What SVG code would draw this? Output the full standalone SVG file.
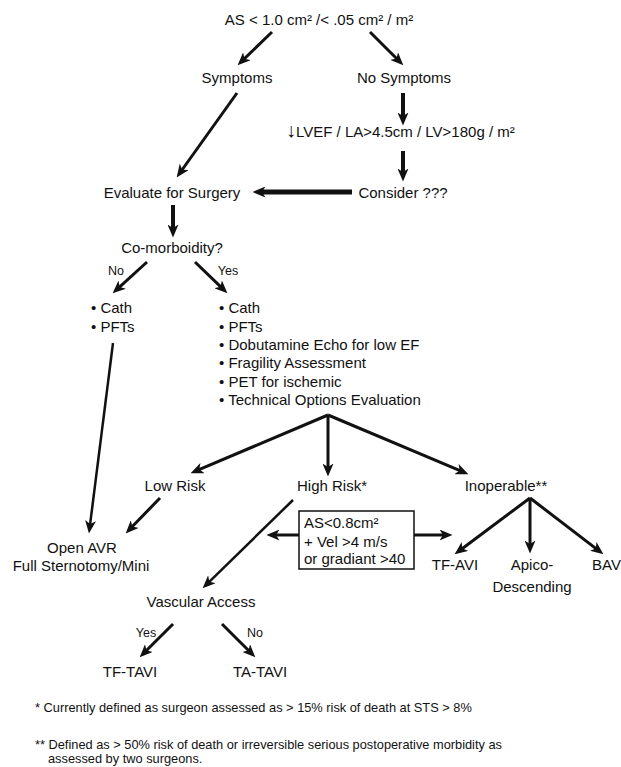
<svg xmlns="http://www.w3.org/2000/svg" width="621" height="767" viewBox="0 0 621 767">
<style>
text{font-family:"Liberation Sans",Arial,sans-serif;font-size:15px;fill:#111}
.c{text-anchor:middle}
.s{font-size:12.5px}
.f{font-size:12.8px}
.a{stroke:#111;stroke-width:3;fill:none;marker-end:url(#h)}
.v{stroke-width:4}
.t{stroke-width:5}
.n{stroke-width:2.5}
</style>
<defs>
<marker id="h" markerUnits="userSpaceOnUse" markerWidth="13" markerHeight="11" refX="4.5" refY="5.5" orient="auto">
<path d="M0,0 L13,5.5 L0,11 L3.5,5.5 z" fill="#111"/>
</marker>
</defs>
<rect width="621" height="767" fill="#fff"/>
<g id="connectors">
<line class="a" x1="272" y1="32" x2="243.7" y2="59.4"/>
<line class="a" x1="370" y1="32" x2="397.3" y2="59.3"/>
<line class="a" x1="237" y1="93" x2="181.6" y2="170.5"/>
<line class="a v" x1="403" y1="93" x2="403" y2="117"/>
<line class="a v" x1="403" y1="151" x2="403" y2="173"/>
<line class="a t" x1="352" y1="192" x2="261" y2="192"/>
<line class="a v" x1="173" y1="205" x2="173" y2="229"/>
<line class="a" x1="147" y1="262" x2="118.9" y2="287.6"/>
<line class="a" x1="195" y1="262" x2="221.3" y2="287.4"/>
<line class="a n" x1="113" y1="343" x2="90" y2="525.1"/>
<line class="a" x1="328" y1="415" x2="198.4" y2="469.9"/>
<line class="a" x1="328" y1="415" x2="328" y2="468"/>
<line class="a" x1="328" y1="415" x2="460.6" y2="470.9"/>
<line class="a" x1="160" y1="498" x2="131.6" y2="527.3"/>
<line class="a n" x1="293" y1="500" x2="208.7" y2="582.4"/>
<line class="a" x1="299" y1="535" x2="275" y2="535"/>
<line class="a" x1="414" y1="535" x2="444" y2="535"/>
<line class="a" x1="530" y1="498" x2="461.4" y2="549.2"/>
<line class="a" x1="530" y1="498" x2="530" y2="545"/>
<line class="a" x1="530" y1="498" x2="596.7" y2="549.1"/>
<line class="a" x1="173" y1="624" x2="145.7" y2="651.3"/>
<line class="a" x1="222" y1="624" x2="249.3" y2="651.3"/>
</g>
<g id="title"><text class="c" x="319" y="25">AS &lt; 1.0 cm² /&lt; .05 cm² / m²</text></g>
<g id="symptoms"><text class="c" x="237" y="83">Symptoms</text></g>
<g id="no-symptoms"><text class="c" x="404" y="83">No Symptoms</text></g>
<g id="lvef"><text x="286" y="137"><tspan style="font-size:20px">↓</tspan>LVEF / LA&gt;4.5cm / LV&gt;180g / m²</text></g>
<g id="consider"><text class="c" x="403" y="198">Consider ???</text></g>
<g id="evaluate"><text class="c" x="172" y="198">Evaluate for Surgery</text></g>
<g id="comorbidity"><text class="c" x="172" y="253">Co-morboidity?</text></g>
<g id="label-no"><text class="s c" x="116" y="275">No</text></g>
<g id="label-yes"><text class="s c" x="228" y="275">Yes</text></g>
<g id="no-list">
<text x="91" y="313">• Cath</text>
<text x="91" y="332">• PFTs</text>
</g>
<g id="yes-list">
<text x="219" y="313">• Cath</text>
<text x="219" y="332">• PFTs</text>
<text x="219" y="350">• Dobutamine Echo for low EF</text>
<text x="219" y="368">• Fragility Assessment</text>
<text x="219" y="387">• PET for ischemic</text>
<text x="219" y="405">• Technical Options Evaluation</text>
</g>
<g id="low-risk"><text class="c" x="175" y="491">Low Risk</text></g>
<g id="high-risk"><text class="c" x="332" y="491">High Risk*</text></g>
<g id="inoperable"><text class="c" x="506" y="491">Inoperable**</text></g>
<g id="criteria-box">
<rect x="299" y="511" width="115" height="58" fill="#fff" stroke="#111" stroke-width="1.5"/>
<text x="304" y="528">AS&lt;0.8cm²</text>
<text x="304" y="547">+ Vel &gt;4 m/s</text>
<text x="304" y="564">or gradiant &gt;40</text>
</g>
<g id="open-avr">
<text class="c" x="82" y="553">Open AVR</text>
<text class="c" x="81" y="571">Full Sternotomy/Mini</text>
</g>
<g id="tf-avi"><text class="c" x="455" y="570">TF-AVI</text></g>
<g id="apico">
<text class="c" x="532" y="570">Apico-</text>
<text class="c" x="532" y="592">Descending</text>
</g>
<g id="bav"><text x="592" y="570">BAV</text></g>
<g id="vascular"><text class="c" x="201" y="607">Vascular Access</text></g>
<g id="label-yes2"><text class="s c" x="146" y="637">Yes</text></g>
<g id="label-no2"><text class="s c" x="255" y="637">No</text></g>
<g id="tf-tavi"><text class="c" x="130" y="677">TF-TAVI</text></g>
<g id="ta-tavi"><text class="c" x="260" y="677">TA-TAVI</text></g>
<g id="footnotes">
<text class="f" x="35" y="712">* Currently defined as surgeon assessed as &gt; 15% risk of death at STS &gt; 8%</text>
<text class="f" x="35" y="749">** Defined as &gt; 50% risk of death or irreversible serious postoperative morbidity as</text>
<text class="f" x="48" y="763">assessed by two surgeons.</text>
</g>
</svg>
